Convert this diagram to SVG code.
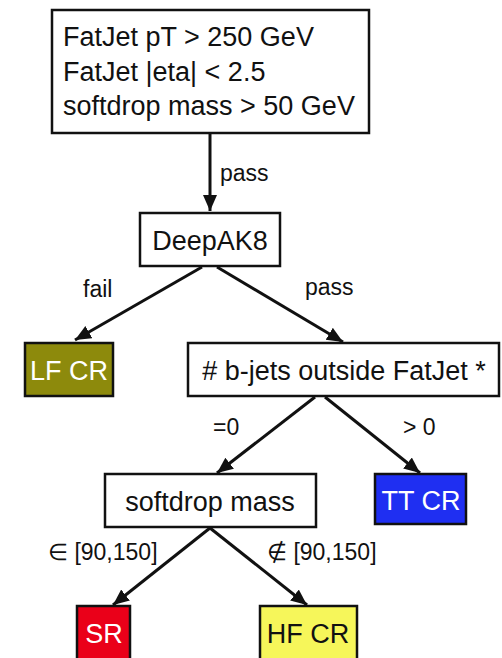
<svg xmlns="http://www.w3.org/2000/svg" width="502" height="658" viewBox="0 0 502 658">
<style>
.box{stroke:#111;stroke-width:2.5;}
.t{font-family:"Liberation Sans",Arial,sans-serif;font-size:27px;fill:#111;}
.w{fill:#fff;}
.lbl{font-family:"Liberation Sans",Arial,sans-serif;font-size:23px;fill:#111;}
.c{text-anchor:middle;}
.conn line{stroke:#111;stroke-width:3;marker-end:url(#ah);}
</style>
<defs>
<marker id="ah" markerUnits="userSpaceOnUse" markerWidth="18" markerHeight="16" refX="16" refY="7" orient="auto">
<path d="M0,0 L16,7 L0,14 z" fill="#111"/>
</marker>
</defs>
<rect width="502" height="658" fill="#fff"/>
<g id="cuts">
<rect class="box" x="52" y="10" width="317" height="123" fill="#fff"/>
<text class="t" x="63" y="46">FatJet pT &gt; 250 GeV</text>
<text class="t" x="63" y="81">FatJet |eta| &lt; 2.5</text>
<text class="t" x="63" y="115">softdrop mass &gt; 50 GeV</text>
</g>
<g id="deepak8">
<rect class="box" x="140" y="213" width="140" height="53" fill="#fff"/>
<text class="t c" x="210" y="250">DeepAK8</text>
</g>
<g id="lfcr">
<rect class="box" x="25" y="343" width="88" height="53" fill="#8d8a0c"/>
<text class="t c w" x="69" y="380">LF CR</text>
</g>
<g id="bjets">
<rect class="box" x="188" y="343" width="311" height="53" fill="#fff"/>
<text class="t c" x="344" y="380"># b-jets outside FatJet *</text>
</g>
<g id="softdrop">
<rect class="box" x="105" y="474" width="211" height="53" fill="#fff"/>
<text class="t c" x="210" y="511">softdrop mass</text>
</g>
<g id="ttcr">
<rect class="box" x="375" y="474" width="91" height="50" fill="#1f2ff2"/>
<text class="t c w" x="421" y="510">TT CR</text>
</g>
<g id="sr">
<rect class="box" x="77" y="606" width="53" height="60" fill="#ea0019"/>
<text class="t c w" x="104" y="643">SR</text>
</g>
<g id="hfcr">
<rect class="box" x="260" y="606" width="97" height="60" fill="#f6f65a"/>
<text class="t c" x="308" y="643">HF CR</text>
</g>
<g id="connectors" class="conn">
<line x1="210" y1="134" x2="210" y2="211"/>
<line x1="202" y1="267" x2="75" y2="340"/>
<line x1="217" y1="267" x2="343" y2="342"/>
<line x1="315" y1="397" x2="217" y2="473"/>
<line x1="325" y1="397" x2="420" y2="473"/>
<line x1="210" y1="528" x2="113" y2="605"/>
<line x1="210" y1="528" x2="307" y2="605"/>
<text class="lbl" x="220" y="181">pass</text>
<text class="lbl" x="83" y="297">fail</text>
<text class="lbl" x="305" y="295">pass</text>
<text class="lbl" x="213" y="435">=0</text>
<text class="lbl" x="403" y="435">&gt; 0</text>
<text class="lbl" x="48" y="560">∈ [90,150]</text>
<text class="lbl" x="267" y="560">∉ [90,150]</text>
</g>
</svg>
